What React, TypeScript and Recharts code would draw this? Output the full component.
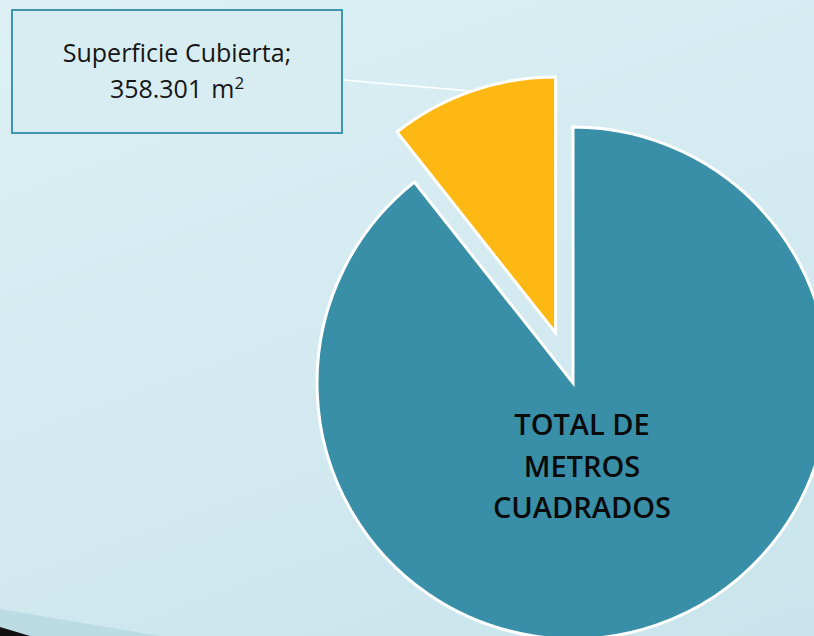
import { PieChart, Pie, Cell } from 'recharts';

const categories = ['Superficie Cubierta', 'TOTAL DE METROS CUADRADOS'];
const values = [358301, 3010000];
const valueLabels = ['358.301', ''];
const colors = ['#FDB813', '#3A8FA8'];

const RADIAN = Math.PI / 180;
const W = 814;
const H = 636;
const CX = 573;
const CY = 383;
const R = 256;
const EXPLODE = 53;

const data = categories.map((name, i) => ({ name, value: values[i], valueLabel: valueLabels[i] }));

// angle of the exploded slice, so the second pie can be shifted along it
const total = values.reduce((a, b) => a + b, 0);
const midYellow = 90 + (360 * values[0]) / total / 2;
const CX2 = CX + EXPLODE * Math.cos(midYellow * RADIAN);
const CY2 = CY - EXPLODE * Math.sin(midYellow * RADIAN);

const CalloutLabel = (props: any) => {
  const { cx, cy, midAngle, outerRadius, index } = props;
  if (index !== 0) return <g />;
  const px = cx + outerRadius * Math.cos(-midAngle * RADIAN);
  const py = cy + outerRadius * Math.sin(-midAngle * RADIAN);
  const item = data[index];
  return (
    <g>
      <line x1={px} y1={py} x2={343} y2={80} stroke="#ffffff" strokeWidth={1.6} />
      <rect x={12} y={10} width={330} height={123} fill="#d8edf2" stroke="#3f96ad" strokeWidth={2} />
      <text
        x={177}
        textAnchor="middle"
        fontFamily="'Open Sans', sans-serif"
        fontSize={25}
        fill="#151515"
      >
        <tspan x={177} y={62}>{item.name};</tspan>
        <tspan x={177} y={98}>
          {item.valueLabel}
          <tspan dx={9}>m</tspan>
          <tspan dy={-9} fontSize={17}>2</tspan>
        </tspan>
      </text>
    </g>
  );
};

const InnerLabel = (props: any) => {
  const { cx, cy, index } = props;
  if (index !== 1) return <g />;
  const lines = ['TOTAL DE', 'METROS', 'CUADRADOS'];
  return (
    <text
      textAnchor="middle"
      fontFamily="'Open Sans', sans-serif"
      fontWeight={600}
      fontSize={29}
      fill="#0a0a0a"
    >
      {lines.map((l, i) => (
        <tspan key={l} x={cx + 9} y={cy + 52 + i * 41.5}>
          {l}
        </tspan>
      ))}
    </text>
  );
};

export default function App() {
  return (
    <div
      style={{
        position: 'absolute',
        left: 0,
        top: 0,
        width: W,
        height: H,
        overflow: 'hidden',
        background: 'linear-gradient(160deg, #dcf0f5 0%, #d3eaf0 50%, #c9e4ec 100%)',
      }}
    >
      <svg width={W} height={H} style={{ position: 'absolute', left: 0, top: 0 }}>
        <polygon points={`0,609 160,${H} 0,${H}`} fill="#bcdbe4" />
        <polygon points={`0,627 30,${H} 0,${H}`} fill="#111111" />
      </svg>
      <div style={{ position: 'absolute', left: 0, top: 0 }}>
        <PieChart width={W} height={H} margin={{ top: 0, right: 0, bottom: 0, left: 0 }}>
          <Pie
            data={data}
            dataKey="value"
            nameKey="name"
            cx={CX}
            cy={CY}
            outerRadius={R}
            startAngle={90}
            endAngle={450}
            stroke="#ffffff"
            strokeWidth={3}
            label={InnerLabel}
            labelLine={false}
            isAnimationActive={false}
          >
            {data.map((d, i) => (
              <Cell
                key={`main-${i}`}
                fill={i === 1 ? colors[i] : 'none'}
                stroke={i === 1 ? '#ffffff' : 'none'}
              />
            ))}
          </Pie>
          <Pie
            data={data}
            dataKey="value"
            nameKey="name"
            cx={CX2}
            cy={CY2}
            outerRadius={R}
            startAngle={90}
            endAngle={450}
            stroke="#ffffff"
            strokeWidth={3}
            label={CalloutLabel}
            labelLine={false}
            isAnimationActive={false}
          >
            {data.map((d, i) => (
              <Cell
                key={`exp-${i}`}
                fill={i === 0 ? colors[i] : 'none'}
                stroke={i === 0 ? '#ffffff' : 'none'}
              />
            ))}
          </Pie>
        </PieChart>
      </div>
    </div>
  );
}
